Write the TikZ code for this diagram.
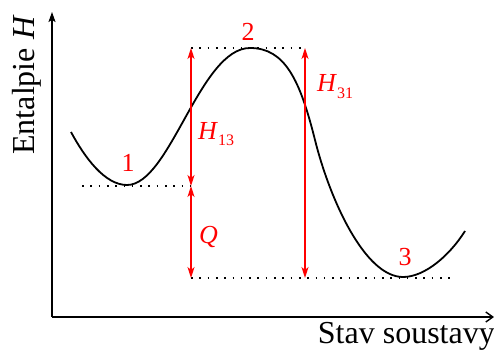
\documentclass[tikz,border=0pt]{standalone}
\usepackage{fontspec}
\setmainfont{Liberation Serif}
\usetikzlibrary{arrows.meta}
\newcommand{\mysub}[1]{\raisebox{-0.25em}{\fontsize{16}{16}\selectfont #1}}
\begin{document}
\begin{tikzpicture}[x=1pt,y=-1pt,
  axis/.style={line width=1.4pt},
  curve/.style={line width=1.8pt, line join=round},
  dots/.style={line width=1.6pt, dash pattern=on 1.6pt off 6.7pt},
  dim/.style={red, line width=1.4pt, {Stealth[length=11pt,width=7pt,inset=3pt]}-{Stealth[length=11pt,width=7pt,inset=3pt]}},
  lbl/.style={red, font=\fontsize{26}{26}\selectfont, inner sep=0pt},
  axlbl/.style={font=\fontsize{32}{32}\selectfont, inner sep=0pt}]
\useasboundingbox (0,0) rectangle (494,350);
% axes
\coordinate (O) at (52,317);
\coordinate (Ytop) at (52,12);
\coordinate (Xend) at (494,317);
\draw[axis, -{Stealth[length=10pt,width=7pt,inset=2pt]}] (O) -- (Ytop);
\draw[axis, -{Straight Barb[length=7pt,width=10pt]}] (O) -- (Xend);
\node[axlbl, rotate=90, anchor=base] (ylab) at (34,85) {Entalpie \textit{H}};
\node[axlbl, anchor=base east] (xlab) at (495,343) {Stav soustavy};
% reference points
\coordinate (d1s) at (82,186);
\coordinate (a1) at (191,186);
\coordinate (a2) at (191,48);
\coordinate (a3) at (191,278);
\coordinate (b2) at (305,48);
\coordinate (b3) at (305,278);
\coordinate (d3e) at (455,278);
% dotted levels
\draw[dots] (d1s) -- (a1);
\draw[dots] (a2) -- (b2);
\draw[dots] (a3) -- (d3e);
% curve
\draw[curve] (71,132) .. controls (85,158) and (105,185) .. (127,185)
  .. controls (170,185) and (200,48) .. (250,48)
  .. controls (285,48) and (300,80) .. (315,140)
  .. controls (330,200) and (365,277) .. (403,277)
  .. controls (425,277) and (450,255) .. (465,231);
% dimension arrows
\draw[dim] (a1) -- (a2);
\draw[dim] (a1) -- (a3);
\draw[dim] (b2) -- (b3);
% labels
\node[lbl] (n1) at (128,163) {1};
\node[lbl] (n2) at (248,32) {2};
\node[lbl] (n3) at (405,257) {3};
\node[lbl, anchor=base west] (h13) at (198,139) {\textit{H}\mysub{13}};
\node[lbl, anchor=base west] (h31) at (317,92) {\textit{H}\mysub{31}};
\node[lbl, anchor=base west] (q) at (199,243) {\textit{Q}};
\end{tikzpicture}
\end{document}
